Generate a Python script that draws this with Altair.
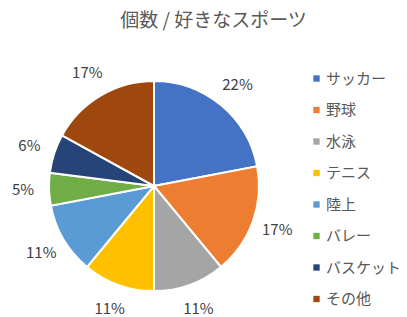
import altair as alt
import pandas as pd

categories = ["サッカー", "野球", "水泳", "テニス", "陸上", "バレー", "バスケット", "その他"]
values = [22, 17, 11, 11, 11, 5, 6, 17]
labels = ["22%", "17%", "11%", "11%", "11%", "5%", "6%", "17%"]
colors = ["#4472C4", "#ED7D31", "#A5A5A5", "#FFC000", "#5B9BD5", "#70AD47", "#264478", "#9E480E"]

df = pd.DataFrame({"sport": categories, "value": values, "label": labels, "idx": list(range(len(categories)))})

FONT = "Noto Sans CJK JP"
CX, CY = 154, 145

base = alt.Chart(df).encode(
    theta=alt.Theta("value:Q", stack=True),
    order=alt.Order("idx:Q"),
)

pie = base.mark_arc(outerRadius=105, stroke="white", strokeWidth=2).encode(
    x=alt.value(CX),
    y=alt.value(CY),
    color=alt.Color(
        "sport:N",
        sort=categories,
        scale=alt.Scale(domain=categories, range=colors),
        legend=alt.Legend(
            title=None,
            orient="none",
            legendX=309,
            legendY=30,
            symbolType="square",
            symbolSize=40,
            symbolStrokeWidth=0,
            labelFont=FONT,
            labelFontSize=15,
            labelColor="#595959",
            labelOffset=2,
            rowPadding=15.5,
        ),
    ),
)

text = base.mark_text(radius=131, font=FONT, fontSize=15, color="#404040").encode(
    x=alt.value(CX),
    y=alt.value(CY),
    text="label:N",
)

chart = (
    alt.layer(pie, text)
    .properties(
        width=407,
        height=317,
        autosize=alt.AutoSizeParams(type="fit", contains="padding"),
        padding={"top": 12, "left": 0, "right": 0, "bottom": 0},
        title=alt.TitleParams(
            "個数 / 好きなスポーツ",
            font=FONT,
            fontSize=19,
            fontWeight="normal",
            color="#595959",
            anchor="middle",
            dx=10,
            offset=10,
        ),
    )
    .configure_view(stroke=None)
)

chart.save("out.html", embed_options={"renderer": "svg", "actions": False})
